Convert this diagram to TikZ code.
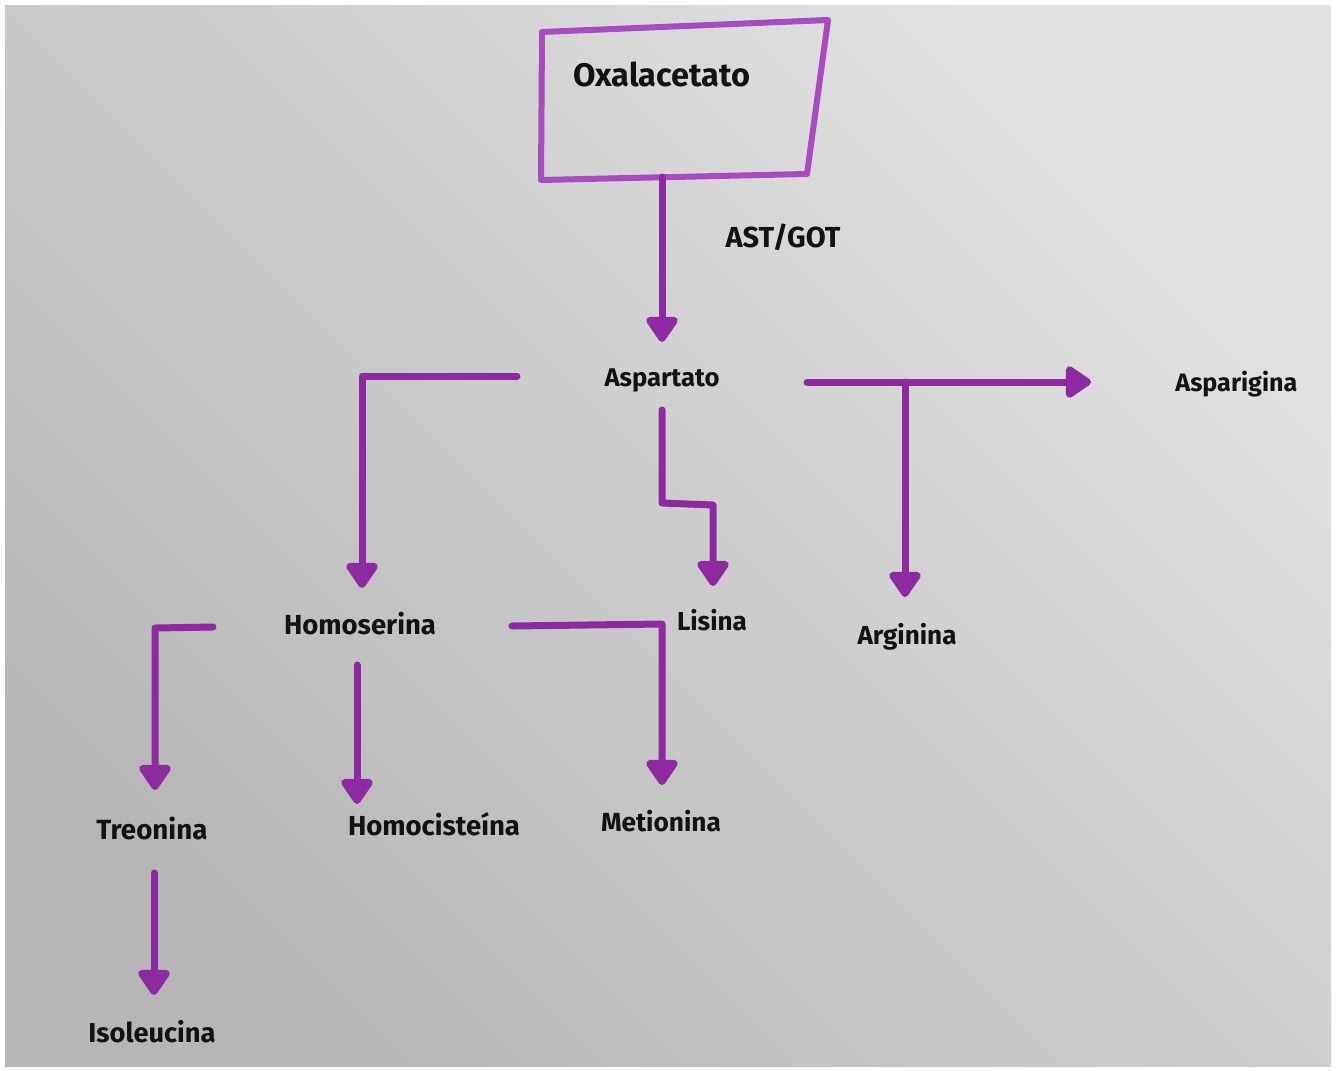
\documentclass[tikz,border=0pt]{standalone}
\usepackage{fontspec}
\setmainfont{Fira Sans}
\usetikzlibrary{arrows.meta}
\definecolor{paperlight}{RGB}{226,226,226}
\definecolor{paperdark}{RGB}{182,182,182}
\definecolor{boxpurple}{RGB}{170,74,192}
\definecolor{arrpurple}{RGB}{142,42,160}
\definecolor{inkblack}{RGB}{18,18,18}
% set a label to a given width
\newcommand\fitw[2]{\resizebox{#1}{!}{#2}}

\begin{document}
\begin{tikzpicture}[x=0.5pt,y=-0.5pt,
  lbl/.style={inner sep=0pt, text=inkblack, font=\bfseries},
  arr/.style={draw=arrpurple, line width=3.5pt, line cap=round, line join=round,
    -{Triangle[width=18pt,length=14pt,round]}},
  frame/.style={draw=boxpurple, line width=3pt, line join=round}]

\useasboundingbox (0,0) rectangle (1336,1070);
\fill[white] (0,0) rectangle (1336,1070);
\shade[top color=paperlight, bottom color=paperdark, shading angle=-45]
  (5,6) rectangle (1331,1066);

% starting compound
\coordinate (b1) at (542,32);
\coordinate (b2) at (828,20);
\coordinate (b3) at (807,174);
\coordinate (b4) at (541,180);
\draw[frame] (b1) -- (b2) -- (b3) -- (b4) -- cycle;
\node[lbl] (oxa) at (662,74) {\fitw{88.5pt}{Oxalacetato}};

% labels
\node[lbl, anchor=north] (ast)  at (783,223)  {\fitw{57.5pt}{AST/GOT}};
\node[lbl, anchor=north] (asp)  at (662,368)  {\fitw{57.5pt}{Aspartato}};
\node[lbl, anchor=west]  (asn)  at (1175,384) {\fitw{61pt}{Asparigina}};
\node[lbl, anchor=north] (hom)  at (360,612)  {\fitw{76pt}{Homoserina}};
\node[lbl, anchor=north] (lis)  at (712,609)  {\fitw{35pt}{Lisina}};
\node[lbl, anchor=north] (arg)  at (907,623)  {\fitw{49.5pt}{Arginina}};
\node[lbl, anchor=north] (treo) at (152,817)  {\fitw{55.5pt}{Treonina}};
\node[lbl, anchor=north] (hcy)  at (434,812)  {\fitw{86pt}{Homocisteína}};
\node[lbl, anchor=north] (met)  at (661,810)  {\fitw{60pt}{Metionina}};
\node[lbl, anchor=north] (iso)  at (152,1020) {\fitw{63.5pt}{Isoleucina}};

% connector start points and bends
\coordinate (s1) at (662,177);
\coordinate (aL) at (517,376);
\coordinate (kL) at (362,376);
\coordinate (aD) at (662,410);
\coordinate (kD1) at (662,503);
\coordinate (kD2) at (713,505);
\coordinate (aR) at (807,382);
\coordinate (jR) at (905,382);
\coordinate (hL) at (213,627);
\coordinate (kT) at (155,628);
\coordinate (hD) at (357,665);
\coordinate (hR) at (512,626);
\coordinate (kM) at (662,624);
\coordinate (tD) at (154,873);

% Oxalacetato -> Aspartato
\draw[arr, shorten >=13pt] (s1) -- (s1 |- asp.north);
% Aspartato -> Homoserina
\draw[arr, shorten >=12pt] (aL) -- (kL) -- (kL |- hom.north);
% Aspartato -> Lisina
\draw[arr, shorten >=11.5pt] (aD) -- (kD1) -- (kD2) -- (kD2 |- lis.north);
% Aspartato -> Asparigina, with a branch to Arginina
\draw[arr, shorten >=42pt] (aR) -- (aR -| asn.west);
\draw[arr, shorten >=13pt] (jR) -- (jR |- arg.north);
% Homoserina -> Treonina, Homocisteína, Metionina
\draw[arr, shorten >=13.5pt] (hL) -- (kT) -- (kT |- treo.north);
\draw[arr, shorten >=4pt] (hD) -- (hD |- hcy.north);
\draw[arr, shorten >=12.5pt] (hR) -- (kM) -- (kM |- met.north);
% Treonina -> Isoleucina
\draw[arr, shorten >=12.5pt] (tD) -- (tD |- iso.north);
\end{tikzpicture}
\end{document}
